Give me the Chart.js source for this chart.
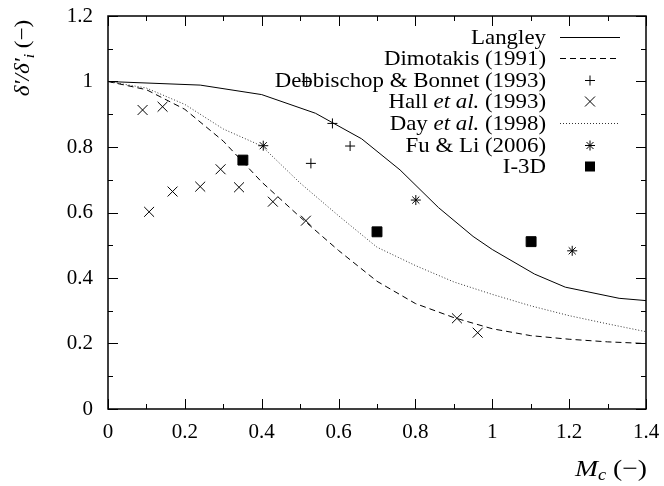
<!DOCTYPE html>
<html>
<head>
<meta charset="utf-8">
<script src="https://cdn.jsdelivr.net/npm/chart.js@4/dist/chart.umd.min.js"></script>
<style>
  html, body { margin: 0; padding: 0; background: #fff; }
  #wrap { width: 664px; height: 486px; }
</style>
</head>
<body>
<div id="wrap"><canvas id="c" width="664" height="486"></canvas></div>
<script>
// data
const langleyX = [0, 0.24, 0.40, 0.54, 0.66, 0.76, 0.86, 0.95, 1.0, 1.11, 1.19, 1.33, 1.40];
const langleyY = [1.0, 0.989, 0.96, 0.903, 0.825, 0.73, 0.615, 0.527, 0.487, 0.412, 0.372, 0.338, 0.331];

const dimoX = [0, 0.1, 0.2, 0.3, 0.4, 0.5, 0.6, 0.7, 0.8, 0.9, 1.0, 1.1, 1.2, 1.3, 1.4];
const dimoY = [1.0, 0.975, 0.915, 0.818, 0.693, 0.586, 0.484, 0.39, 0.322, 0.279, 0.245, 0.224, 0.213, 0.205, 0.2];

const dayX = [0, 0.1, 0.2, 0.3, 0.4, 0.5, 0.6, 0.7, 0.8, 0.9, 1.0, 1.1, 1.2, 1.3, 1.4];
const dayY = [1.0, 0.98, 0.93, 0.855, 0.803, 0.69, 0.59, 0.494, 0.438, 0.388, 0.35, 0.315, 0.285, 0.26, 0.236];

const debX = [0.517, 0.584, 0.63, 0.528];
const debY = [1.0, 0.872, 0.803, 0.75];

const hallX = [0.090, 0.142, 0.107, 0.168, 0.24, 0.293, 0.341, 0.429, 0.515, 0.908, 0.962];
const hallY = [0.913, 0.923, 0.602, 0.664, 0.679, 0.732, 0.677, 0.633, 0.575, 0.277, 0.233];

const fuX = [0.404, 0.801, 1.208];
const fuY = [0.804, 0.638, 0.483];

const i3dX = [0.351, 0.70, 1.101];
const i3dY = [0.760, 0.541, 0.511];

const xTicks = [0, 0.2, 0.4, 0.6, 0.8, 1, 1.2, 1.4];
const yTicks = [0, 0.2, 0.4, 0.6, 0.8, 1, 1.2];

// legend: text pieces [text, italic]
const legendItems = [
  { parts: [['Langley', false]], kind: 'solid' },
  { parts: [['Dimotakis (1991)', false]], kind: 'dashed' },
  { parts: [['Debbischop & Bonnet (1993)', false]], kind: 'plus' },
  { parts: [['Hall ', false], ['et al.', true], [' (1993)', false]], kind: 'x' },
  { parts: [['Day ', false], ['et al.', true], [' (1998)', false]], kind: 'dotted' },
  { parts: [['Fu & Li (2006)', false]], kind: 'star' },
  { parts: [['I-3D', false]], kind: 'square' }
];

const FONT = '"Liberation Serif", "DejaVu Serif", serif';
const FS = 21;
const LFS = 22;       // legend font size
const STRETCH = 1.04; // 가로 폭 보정 (CM 글꼴이 더 넓음)

function pts(xs, ys) {
  return xs.map((x, i) => ({ x: x, y: ys[i] }));
}

// 조각 글자 이어 그리기
function drawSegs(ctx, segs, x0, y0, sx) {
  let x = x0;
  segs.forEach(s => {
    ctx.font = s[1];
    ctx.save();
    ctx.translate(x, y0 + s[2]);
    ctx.scale(sx, 1);
    ctx.fillText(s[0], 0, 0);
    ctx.restore();
    x += ctx.measureText(s[0]).width * sx;
  });
}
function segsWidth(ctx, segs, sx) {
  let w = 0;
  segs.forEach(s => { ctx.font = s[1]; w += ctx.measureText(s[0]).width * sx; });
  return w;
}

// 안쪽 눈금, 테두리, 축 제목, 범례 그리기
const decoPlugin = {
  id: 'deco',
  afterDraw(chart) {
    const ctx = chart.ctx;
    const a = chart.chartArea;
    const xs = chart.scales.x, ys = chart.scales.y;
    ctx.save();
    ctx.strokeStyle = '#000';
    ctx.lineWidth = 1;
    // ticks
    for (let i = 0; i <= 14; i++) {
      const px = Math.round(xs.getPixelForValue(i / 10)) + 0.5;
      const len = i % 2 === 0 ? 10 : 5;
      ctx.beginPath();
      ctx.moveTo(px, a.bottom); ctx.lineTo(px, a.bottom - len);
      ctx.moveTo(px, a.top); ctx.lineTo(px, a.top + len);
      ctx.stroke();
    }
    for (let i = 0; i <= 12; i++) {
      const py = Math.round(ys.getPixelForValue(i / 10)) + 0.5;
      const len = i % 2 === 0 ? 10 : 5;
      ctx.beginPath();
      ctx.moveTo(a.left, py); ctx.lineTo(a.left + len, py);
      ctx.moveTo(a.right, py); ctx.lineTo(a.right - len, py);
      ctx.stroke();
    }
    // border
    ctx.lineWidth = 1.5;
    ctx.strokeRect(a.left, a.top, a.right - a.left, a.bottom - a.top);

    ctx.fillStyle = '#000';
    ctx.textBaseline = 'alphabetic';

    // y title (rotated)
    ctx.save();
    ctx.translate(29, 58);
    ctx.rotate(-Math.PI / 2);
    const segs = [
      ['δ′/δ′', 'italic 22px ' + FONT, 0],
      ['i', 'italic 15px ' + FONT, 5],
      [' (−)', '22px ' + FONT, 0]
    ];
    let tot = segsWidth(ctx, segs, 1.05);
    drawSegs(ctx, segs, -tot / 2, 0, 1.05);
    ctx.restore();

    // x title
    const xsegs = [
      ['M', 'italic 24px ' + FONT, 0],
      ['c', 'italic 16px ' + FONT, 4],
      [' (−)', '24px ' + FONT, 0]
    ];
    tot = segsWidth(ctx, xsegs, 1.15);
    drawSegs(ctx, xsegs, 647 - tot, 476, 1.15);

    // legend
    legendItems.forEach((it, k) => {
      const yy = 36.5 + k * 21.6;
      const parts = it.parts.map(p => [p[0], (p[1] ? 'italic ' : '') + LFS + 'px ' + FONT, 0]);
      const w = segsWidth(ctx, parts, STRETCH);
      drawSegs(ctx, parts, 546 - w, yy + 7, STRETCH);

      const mx = 590, my = Math.round(yy) + 0.5;
      ctx.lineWidth = 1;
      ctx.beginPath();
      if (it.kind === 'solid' || it.kind === 'dashed' || it.kind === 'dotted') {
        ctx.setLineDash(it.kind === 'dashed' ? [6, 4] : it.kind === 'dotted' ? [1, 2] : []);
        ctx.strokeStyle = it.kind === 'dotted' ? '#333' : '#000';
        ctx.moveTo(560, my); ctx.lineTo(620, my);
        ctx.stroke();
        ctx.setLineDash([]);
        ctx.strokeStyle = '#000';
      } else if (it.kind === 'plus') {
        ctx.moveTo(mx - 5, my); ctx.lineTo(mx + 5, my);
        ctx.moveTo(mx, my - 5); ctx.lineTo(mx, my + 5);
        ctx.stroke();
      } else if (it.kind === 'x') {
        ctx.moveTo(mx - 5, my - 5); ctx.lineTo(mx + 5, my + 5);
        ctx.moveTo(mx - 5, my + 5); ctx.lineTo(mx + 5, my - 5);
        ctx.stroke();
      } else if (it.kind === 'star') {
        ctx.moveTo(mx - 5, my); ctx.lineTo(mx + 5, my);
        ctx.moveTo(mx, my - 5); ctx.lineTo(mx, my + 5);
        ctx.moveTo(mx - 3.5, my - 3.5); ctx.lineTo(mx + 3.5, my + 3.5);
        ctx.moveTo(mx - 3.5, my + 3.5); ctx.lineTo(mx + 3.5, my - 3.5);
        ctx.stroke();
      } else if (it.kind === 'square') {
        ctx.fillRect(mx - 5, my - 5, 10, 10);
      }
    });
    ctx.restore();
  }
};

const lineBase = { showLine: true, pointRadius: 0, pointHoverRadius: 0, borderWidth: 1, tension: 0, fill: false };
const markBase = { showLine: false, borderColor: '#000', backgroundColor: '#000', borderWidth: 1 };

new Chart(document.getElementById('c'), {
  type: 'scatter',
  data: {
    datasets: [
      Object.assign({ label: 'Langley', data: pts(langleyX, langleyY), borderColor: '#000' }, lineBase),
      Object.assign({ label: 'Dimotakis (1991)', data: pts(dimoX, dimoY), borderColor: '#000', borderDash: [6, 4] }, lineBase),
      Object.assign({ label: 'Day et al. (1998)', data: pts(dayX, dayY), borderColor: '#333', borderDash: [1, 2] }, lineBase),
      Object.assign({ label: 'Debbischop & Bonnet (1993)', data: pts(debX, debY), pointStyle: 'cross', pointRadius: 5 }, markBase),
      Object.assign({ label: 'Hall et al. (1993)', data: pts(hallX, hallY), pointStyle: 'crossRot', pointRadius: 7 }, markBase),
      Object.assign({ label: 'Fu & Li (2006)', data: pts(fuX, fuY), pointStyle: 'star', pointRadius: 5 }, markBase),
      Object.assign({ label: 'I-3D', data: pts(i3dX, i3dY), pointStyle: 'rect', pointRadius: 7 }, markBase)
    ]
  },
  options: {
    responsive: false,
    animation: false,
    layout: { padding: { top: 16, right: 18, left: 0, bottom: 0 } },
    plugins: { legend: { display: false }, tooltip: { enabled: false } },
    scales: {
      x: {
        type: 'linear', min: 0, max: 1.4,
        grid: { display: false, drawTicks: false },
        border: { display: false },
        afterBuildTicks: s => { s.ticks = xTicks.map(v => ({ value: v })); },
        afterFit: s => { s.height = 77; s.paddingLeft = 0; s.paddingRight = 0; },
        ticks: {
          padding: 11, color: '#000', maxRotation: 0, autoSkip: false,
          font: { family: FONT, size: FS },
          callback: v => String(Number(v.toFixed(1)))
        }
      },
      y: {
        type: 'linear', min: 0, max: 1.2,
        grid: { display: false, drawTicks: false },
        border: { display: false },
        afterBuildTicks: s => { s.ticks = yTicks.map(v => ({ value: v })); },
        afterFit: s => { s.width = 108; s.paddingTop = 0; s.paddingBottom = 0; },
        ticks: {
          padding: 15, color: '#000', autoSkip: false,
          font: { family: FONT, size: FS },
          callback: v => String(Number(v.toFixed(1)))
        }
      }
    }
  },
  plugins: [decoPlugin]
});
</script>
</body>
</html>
